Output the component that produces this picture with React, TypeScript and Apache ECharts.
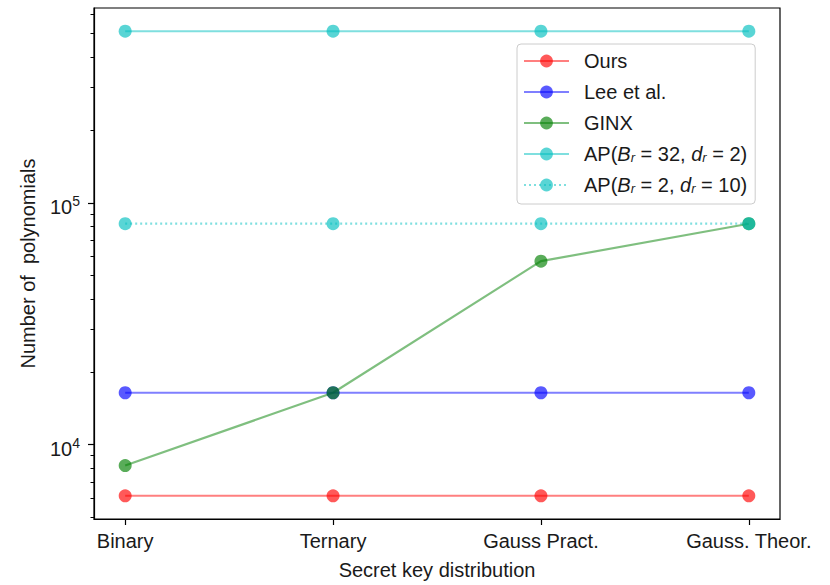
import React, { useEffect, useRef } from "react";
import * as echarts from "echarts";

const categories = ["Binary", "Ternary", "Gauss Pract.", "Gauss. Theor."];
const seriesNames = [
  "Ours",
  "Lee et al.",
  "GINX",
  "AP(B_r = 32, d_r = 2)",
  "AP(B_r = 2, d_r = 10)",
];
const oursValues = [6144, 6144, 6144, 6144];
const leeValues = [16384, 16384, 16384, 16384];
const ginxValues = [8192, 16384, 57344, 81920];
const apBigValues = [512000, 512000, 512000, 512000];
const apSmallValues = [81920, 81920, 81920, 81920];
const majorTickValues = [10000, 100000];
const minorTickValues = [
  5000, 6000, 7000, 8000, 9000,
  20000, 30000, 40000, 50000, 60000, 70000, 80000, 90000,
  200000, 300000, 400000, 500000, 600000,
];
const categoryPositions = [0, 1, 2, 3];

const FONT = "'Liberation Sans', Arial, sans-serif";
const TXT = "#1a1a1a";
const FS = 20;

const legendRich: Record<string, string> = {
  "Ours": "Ours",
  "Lee et al.": "Lee et al.",
  "GINX": "GINX",
  "AP(B_r = 32, d_r = 2)": "AP({it|B}{sub|r} = 32, {it|d}{sub|r} = 2)",
  "AP(B_r = 2, d_r = 10)": "AP({it|B}{sub|r} = 2, {it|d}{sub|r} = 10)",
};

export default function App() {
  const ref = useRef<HTMLDivElement>(null);
  useEffect(() => {
    if (!ref.current) return;
    const chart = echarts.init(ref.current, undefined, { renderer: "svg" });
    const all = [...oursValues, ...leeValues, ...ginxValues, ...apBigValues, ...apSmallValues];
    const lo = Math.log10(Math.min(...all));
    const hi = Math.log10(Math.max(...all));
    const pad = (hi - lo) * 0.05;
    const yMin = Math.pow(10, lo - pad);
    const yMax = Math.pow(10, hi + pad);

    const mk = (name: string, vals: number[], rgb: string, dotted: boolean) => ({
      type: "line",
      name,
      data: vals.map((v, i) => [categoryPositions[i], v]),
      symbol: "circle",
      symbolSize: 13,
      lineStyle: { color: `rgba(${rgb},0.5)`, width: 2.2, type: dotted ? [2, 3] : "solid" },
      itemStyle: { color: `rgba(${rgb},0.65)`, borderWidth: 0 },
      emphasis: { disabled: true },
      xAxisIndex: 0,
      yAxisIndex: 0,
    });

    const yBase = {
      type: "log",
      min: yMin,
      max: yMax,
      position: "left",
      splitLine: { show: false },
    };

    chart.setOption({
      animation: false,
      grid: {
        left: 94,
        right: 50,
        top: 8,
        bottom: 62,
        show: true,
        borderColor: "#000",
        borderWidth: 1.2,
      },
      legend: {
        orient: "vertical",
        left: 517,
        top: 44,
        padding: [7, 8, 9, 6],
        itemGap: 11,
        itemWidth: 45,
        itemHeight: 16,
        backgroundColor: "rgba(255,255,255,0.8)",
        borderColor: "#cccccc",
        borderWidth: 1,
        borderRadius: 4,
        data: seriesNames,
        formatter: (n: string) => legendRich[n] ?? n,
        textStyle: {
          fontSize: FS,
          fontFamily: FONT,
          color: TXT,
          lineHeight: 20,
          padding: [0, 0, 0, 10],
          rich: {
            it: { fontSize: FS, fontStyle: "italic", fontFamily: FONT, color: TXT, lineHeight: 20 },
            sub: { fontSize: 13, fontStyle: "italic", fontFamily: FONT, color: TXT, lineHeight: 10, verticalAlign: "bottom" },
          },
        },
      },
      xAxis: {
        type: "value",
        min: -0.15,
        max: 3.15,
        splitLine: { show: false },
        axisLine: { onZero: false, lineStyle: { color: "#000", width: 1.2 } },
        axisTick: { customValues: categoryPositions, length: 6, lineStyle: { color: "#000", width: 1.2 } },
        axisLabel: {
          customValues: categoryPositions,
          formatter: (v: number) => categories[Math.round(v)],
          fontSize: FS,
          fontFamily: FONT,
          color: TXT,
          margin: 12,
        },
        name: "Secret key distribution",
        nameLocation: "middle",
        nameGap: 41,
        nameTextStyle: { fontSize: FS, fontFamily: FONT, color: TXT },
      },
      yAxis: [
        {
          ...yBase,
          axisLine: { show: true, onZero: false, lineStyle: { color: "#000", width: 1.2 } },
          axisTick: { show: true, customValues: majorTickValues, length: 6, lineStyle: { color: "#000", width: 1.2 } },
          axisLabel: {
            customValues: majorTickValues,
            formatter: (v: number) => `10{sup|${Math.round(Math.log10(v))}}`,
            fontSize: FS,
            fontFamily: FONT,
            color: TXT,
            lineHeight: 26,
            padding: [8, 0, 0, 0],
            margin: 14,
            rich: {
              sup: { fontSize: 14, fontFamily: FONT, color: TXT, lineHeight: 14, verticalAlign: "top" },
            },
          },
          name: "Number of  polynomials",
          nameLocation: "middle",
          nameGap: 56,
          nameTextStyle: { fontSize: FS, fontFamily: FONT, color: TXT },
        },
        {
          ...yBase,
          axisLine: { show: false, onZero: false },
          axisTick: { show: true, customValues: minorTickValues, length: 3.5, lineStyle: { color: "#000", width: 1 } },
          axisLabel: { show: false },
        },
      ],
      series: [
        mk(seriesNames[0], oursValues, "255,0,0", false),
        mk(seriesNames[1], leeValues, "0,0,255", false),
        mk(seriesNames[2], ginxValues, "0,128,0", false),
        mk(seriesNames[3], apBigValues, "0,191,191", false),
        mk(seriesNames[4], apSmallValues, "0,191,191", true),
      ],
    });
    return () => chart.dispose();
  }, []);
  return (
    <div
      ref={ref}
      style={{ position: "fixed", left: 0, top: 0, width: 830, height: 585, background: "#fff" }}
    />
  );
}
